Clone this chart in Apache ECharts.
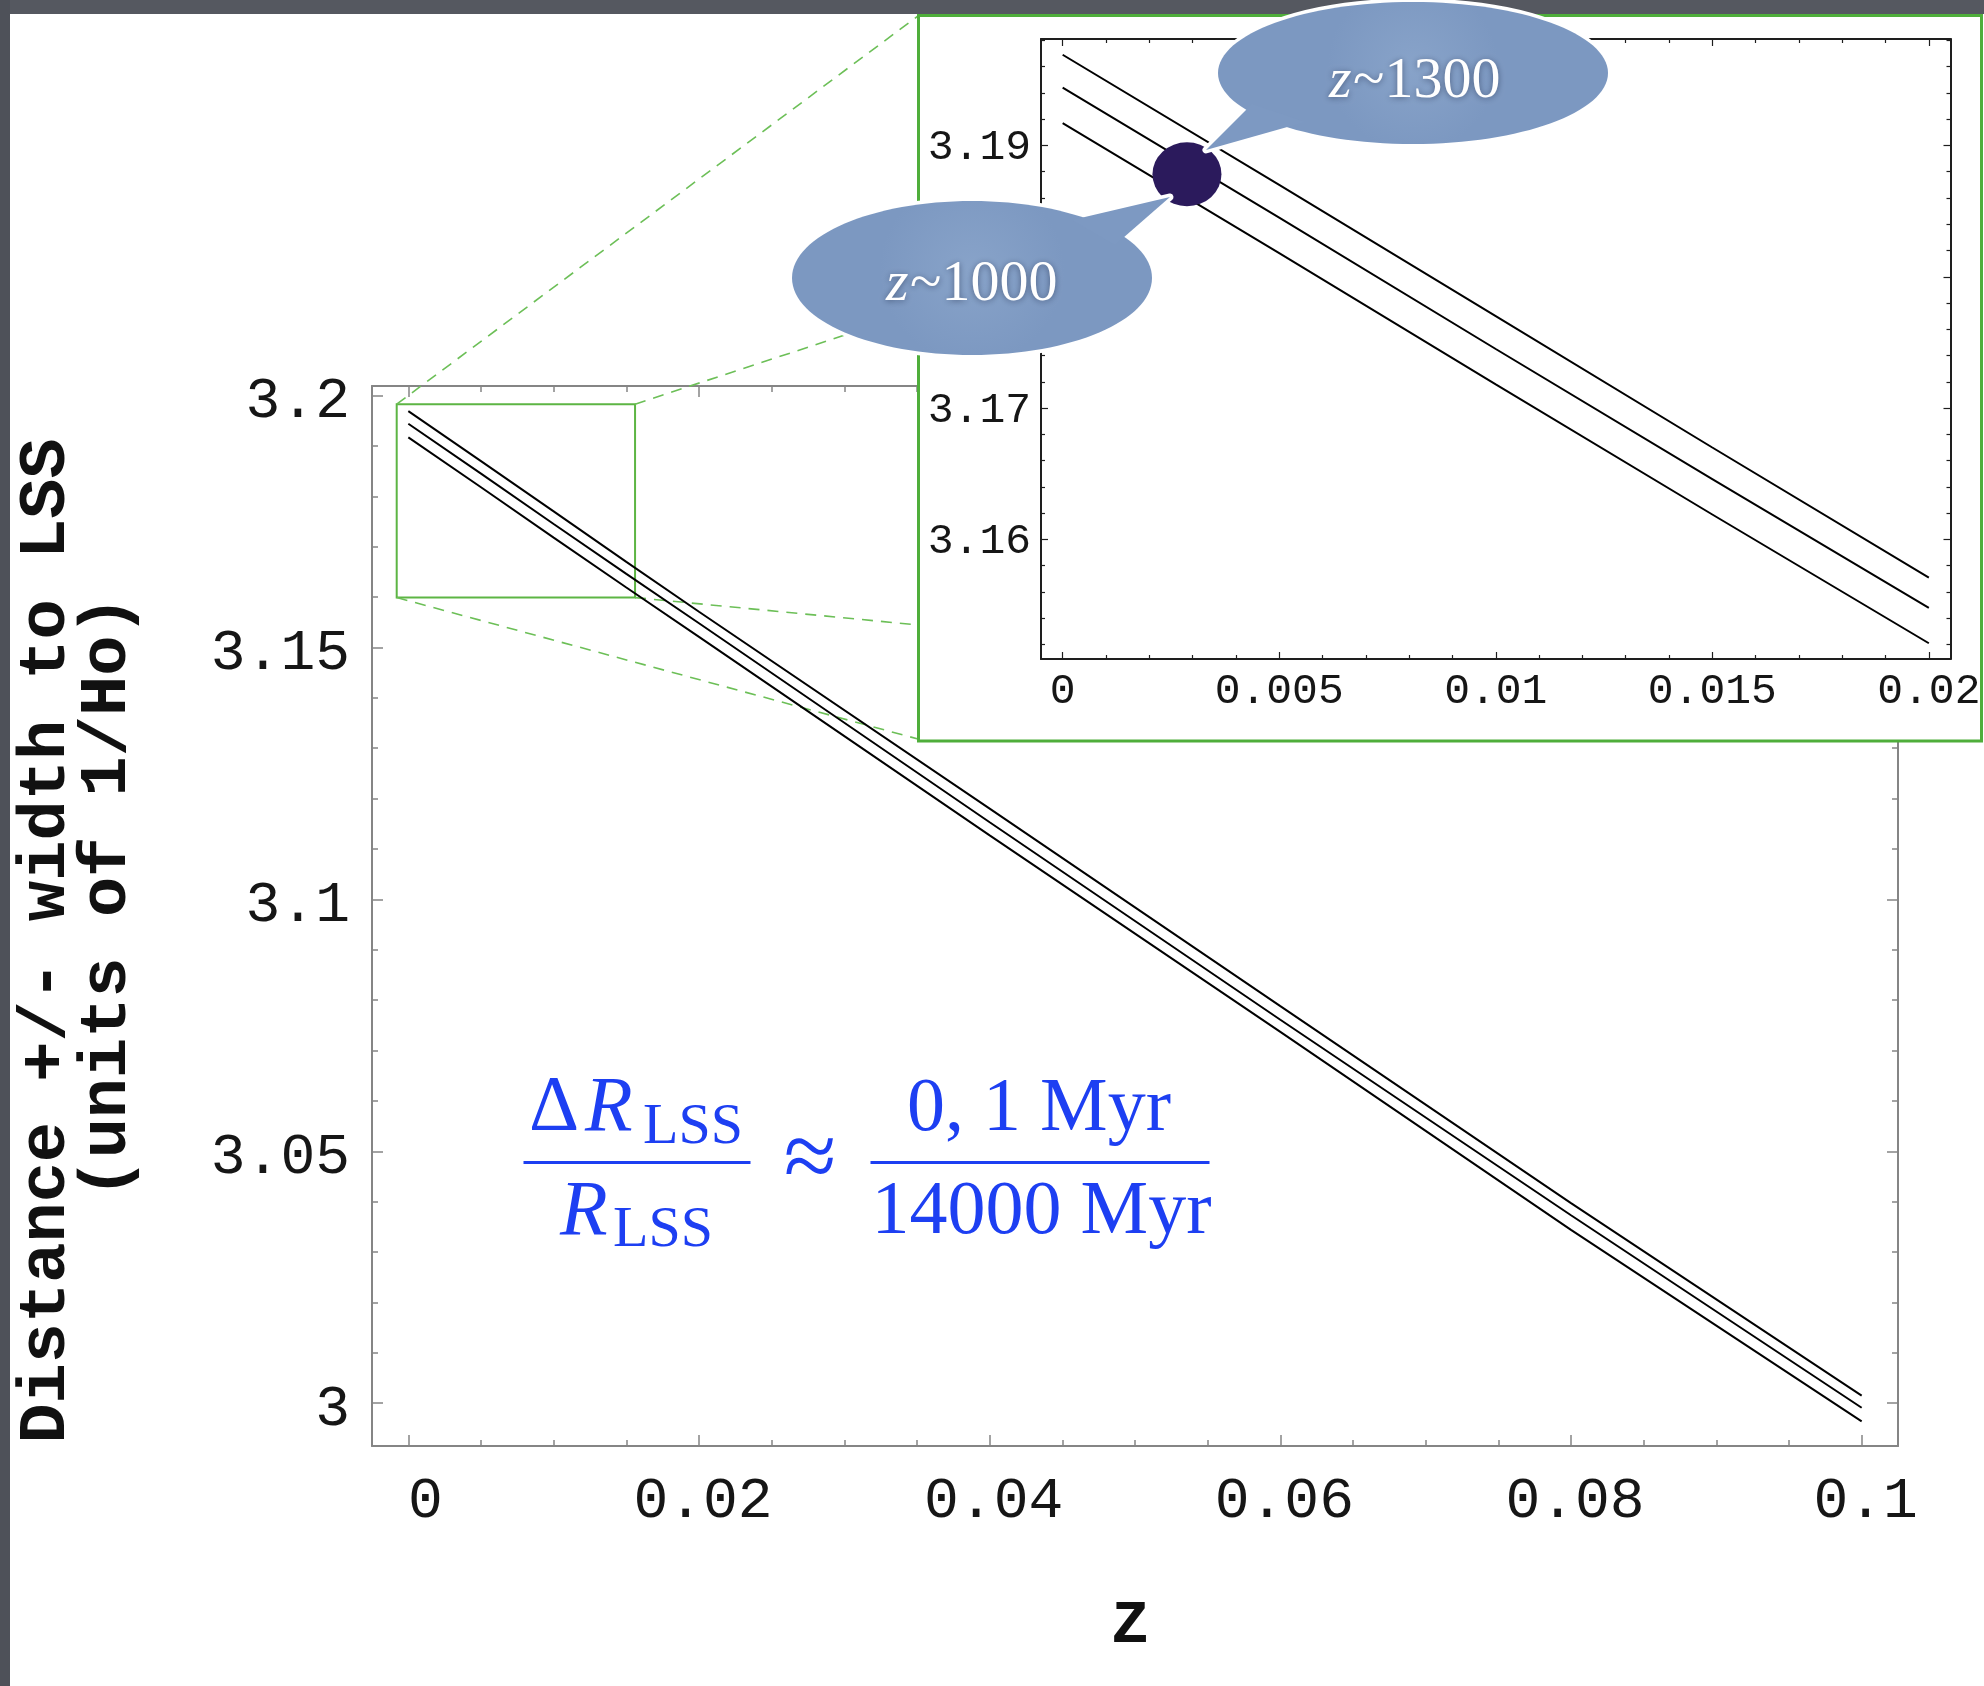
<!DOCTYPE html>
<html>
<head>
<meta charset="utf-8">
<title>Distance to LSS versus z</title>
<script src="https://cdn.jsdelivr.net/npm/echarts@6/dist/echarts.min.js"></script>
<style>
  html, body { margin: 0; padding: 0; background: #ffffff; }
  #chart { width: 1984px; height: 1686px; }
</style>
</head>
<body>
<div id="chart"></div>
<script>
// Observer redshift z and distance to the last scattering surface (units of 1/H0):
// central value and the +/- width band.
const zValues          = [0, 0.005, 0.01, 0.015, 0.02, 0.04, 0.06, 0.08, 0.1];
const upperEdge        = [3.1969, 3.1870, 3.1770, 3.1670, 3.1571, 3.1180, 3.0788, 3.0397, 3.0015];
const centralDistance  = [3.1944, 3.1845, 3.1745, 3.1646, 3.1548, 3.1153, 3.0761, 3.0373, 2.9991];
const lowerEdge        = [3.1917, 3.1818, 3.1718, 3.1619, 3.1521, 3.1127, 3.0737, 3.0344, 2.9964];

// Axis ranges and tick labels of the main plot
const mainXRange      = [-0.0025, 0.1025];
const mainXTicks      = [0, 0.02, 0.04, 0.06, 0.08, 0.1];
const mainXTickLabels = ['0', '0.02', '0.04', '0.06', '0.08', '0.1'];
const mainYRange      = [2.9915, 3.2019];
const mainYTicks      = [3, 3.05, 3.1, 3.15, 3.2];
const mainYTickLabels = ['3', '3.05', '3.1', '3.15', '3.2'];

// Axis ranges and tick labels of the magnified view
const insetXRange      = [-0.0005, 0.0205];
const insetXTicks      = [0, 0.005, 0.01, 0.015, 0.02];
const insetXTickLabels = ['0', '0.005', '0.01', '0.015', '0.02'];
const insetYRange      = [3.1509, 3.1981];
const insetYTicks      = [3.16, 3.17, 3.18, 3.19];
const insetYTickLabels = ['3.16', '3.17', '3.18', '3.19'];

// Region of the main plot shown magnified
const zoomBoxX = [-0.0008, 0.0156];
const zoomBoxY = [3.1599, 3.1983];

// Emission point marked on the central curve
const emissionPoint = [0.00287, 3.1878];

// Bubble captions
const bubbleLabels = ['~1300', '~1000'];

const chart = echarts.init(document.getElementById('chart'), null, { renderer: 'canvas' });

function minorTicks(majors, step, lo, hi) {
  const out = [];
  const n0 = Math.ceil(lo / step - 1e-9), n1 = Math.floor(hi / step + 1e-9);
  for (let n = n0; n <= n1; n++) {
    const v = +(n * step).toFixed(6);
    if (!majors.some(m => Math.abs(m - v) < step / 10)) out.push(v);
  }
  return out;
}

function tickIndex(v, ticks) {
  let best = 0;
  ticks.forEach((t, i) => { if (Math.abs(t - v) < Math.abs(ticks[best] - v)) best = i; });
  return best;
}

// Four axes per dimension: labelled side + mirrored side, each with a major and a minor tick layer
function axisSet(dim, grid, range, majors, labels, minors, st) {
  const sides = dim === 'x' ? ['bottom', 'top'] : ['left', 'right'];
  const out = [];
  sides.forEach((pos, i) => {
    const label = Object.assign({
      show: true, customValues: majors,
      formatter: v => {
        const k = tickIndex(v, majors);
        return (st.shiftFirst && dim === 'x' && k === 0) ? '{first|' + labels[k] + '}' : labels[k];
      },
      rich: { first: { padding: [0, 0, 0, st.shiftFirst || 0], fontFamily: 'Liberation Mono',
                       fontSize: st.fontSize, color: '#161616' } },
      fontFamily: 'Liberation Mono', fontSize: st.fontSize, color: '#161616'
    }, dim === 'x' ? st.xLabel : st.yLabel);
    out.push({
      type: 'value', gridIndex: grid, position: pos, min: range[0], max: range[1], z: st.z,
      axisLine: { show: true, onZero: false, lineStyle: { color: st.lineColor, width: st.lineWidth } },
      axisTick: { show: true, inside: true, length: st.majorLen, customValues: majors,
                  lineStyle: { color: st.lineColor, width: st.tickWidth } },
      axisLabel: i === 0 ? label : { show: false },
      splitLine: { show: false }, minorTick: { show: false }
    });
    out.push({
      type: 'value', gridIndex: grid, position: pos, min: range[0], max: range[1], z: st.z,
      axisLine: { show: false, onZero: false }, axisLabel: { show: false },
      splitLine: { show: false }, minorTick: { show: false },
      axisTick: { show: true, inside: true, length: st.minorLen, customValues: minors,
                  lineStyle: { color: st.lineColor, width: st.tickWidth } }
    });
  });
  return out;
}

const mainStyle = {
  z: 0, lineColor: '#858585', lineWidth: 2, tickWidth: 1.5, majorLen: 11, minorLen: 6, fontSize: 58,
  shiftFirst: 26,
  xLabel: { margin: 27, padding: [0, 0, 0, 8] },
  yLabel: { margin: 22, verticalAlign: 'top', lineHeight: 13 }
};
const insetStyle = {
  z: 4, lineColor: '#1e1e1e', lineWidth: 2, tickWidth: 1.2, majorLen: 7, minorLen: 4, fontSize: 43,
  xLabel: { margin: 11 },
  yLabel: { margin: 10, verticalAlign: 'top', lineHeight: 5 }
};

const xAxes = [
  ...axisSet('x', 0, mainXRange, mainXTicks, mainXTickLabels, minorTicks(mainXTicks, 0.005, mainXRange[0], mainXRange[1]), mainStyle),
  ...axisSet('x', 1, insetXRange, insetXTicks, insetXTickLabels, minorTicks(insetXTicks, 0.001, insetXRange[0], insetXRange[1]), insetStyle)
];
const yAxes = [
  ...axisSet('y', 0, mainYRange, mainYTicks, mainYTickLabels, minorTicks(mainYTicks, 0.01, mainYRange[0], mainYRange[1]), mainStyle),
  ...axisSet('y', 1, insetYRange, insetYTicks, insetYTickLabels, minorTicks(insetYTicks, 0.002, insetYRange[0], insetYRange[1]), insetStyle)
];

const pairs = arr => zValues.map((z, i) => [z, arr[i]]);
const insetPairs = arr => pairs(arr).filter(p => p[0] <= insetXRange[1]);
const curveStyle = { color: '#000000', width: 2 };

function curve(data, axisIdx, z) {
  return { type: 'line', data, xAxisIndex: axisIdx, yAxisIndex: axisIdx, z,
           showSymbol: false, symbol: 'none', silent: true, lineStyle: curveStyle };
}

const mainUpper = curve(pairs(upperEdge), 0, 2);
mainUpper.markArea = {
  silent: true,
  itemStyle: { color: 'rgba(0,0,0,0)', borderColor: '#5db544', borderWidth: 2 },
  data: [[{ coord: [zoomBoxX[0], zoomBoxY[1]] }, { coord: [zoomBoxX[1], zoomBoxY[0]] }]]
};

const option = {
  backgroundColor: '#ffffff',
  animation: false,
  grid: [
    { left: 372, top: 386, width: 1526, height: 1060, containLabel: false, outerBoundsMode: 'none' },
    { left: 1041, top: 39, width: 909.5, height: 620, containLabel: false, outerBoundsMode: 'none' }
  ],
  xAxis: xAxes,
  yAxis: yAxes,
  series: [
    mainUpper,
    curve(pairs(centralDistance), 0, 2),
    curve(pairs(lowerEdge), 0, 2),
    curve(insetPairs(upperEdge), 4, 5),
    curve(insetPairs(centralDistance), 4, 5),
    curve(insetPairs(lowerEdge), 4, 5),
    {
      type: 'scatter', xAxisIndex: 4, yAxisIndex: 4, z: 6, silent: true,
      data: [emissionPoint], symbol: 'circle', symbolSize: [69, 64],
      itemStyle: { color: '#2b1a5c', opacity: 1 }
    }
  ]
};
chart.setOption(option);

// Decorations: slide frame, magnifier box, bubbles, axis titles, formula
const px = p => chart.convertToPixel({ seriesIndex: 0 }, p);
const boxTL = px([zoomBoxX[0], zoomBoxY[1]]);
const boxTR = px([zoomBoxX[1], zoomBoxY[1]]);
const boxBL = px([zoomBoxX[0], zoomBoxY[0]]);
const boxBR = px([zoomBoxX[1], zoomBoxY[0]]);

const dash = (a, b) => ({
  type: 'line', z: 1, silent: true,
  shape: { x1: a[0], y1: a[1], x2: b[0], y2: b[1] },
  style: { stroke: '#6cbf57', lineWidth: 1.6, lineDash: [11, 8] }
});

function bubble(cx, cy, rx, ry, tail) {
  return [
    { type: 'ellipse', z: 7, silent: true, shape: { cx, cy, rx, ry },
      style: { fill: '#ffffff', stroke: '#ffffff', lineWidth: 7 } },
    { type: 'polygon', z: 7, silent: true, shape: { points: tail },
      style: { fill: '#ffffff', stroke: '#ffffff', lineWidth: 7, lineJoin: 'round' } },
    { type: 'ellipse', z: 8, silent: true, shape: { cx, cy, rx, ry },
      style: { fill: {
        type: 'radial', x: 0.5, y: 0.45, r: 0.6,
        colorStops: [{ offset: 0, color: '#88a3c9' }, { offset: 1, color: '#7c98c1' }]
      } } },
    { type: 'polygon', z: 8, silent: true, shape: { points: tail },
      style: { fill: '#7d99c2' } }
  ];
}

const bubbleText = (x, y, label) => [
  { type: 'text', z: 9, silent: true, x: x, y: y,
    style: { text: 'z', font: 'italic 58px "Liberation Serif"', fill: '#ffffff',
             align: 'left', verticalAlign: 'middle',
             textShadowColor: 'rgba(30,40,70,0.55)', textShadowBlur: 6, textShadowOffsetY: 1 } },
  { type: 'text', z: 9, silent: true, x: x + 24, y: y,
    style: { text: label, font: '58px "Liberation Serif"', fill: '#ffffff',
             align: 'left', verticalAlign: 'middle',
             textShadowColor: 'rgba(30,40,70,0.55)', textShadowBlur: 6, textShadowOffsetY: 1 } }
];

const blue = '#1d3ff2';
const ftext = (x, y, text, size, italic, align) => ({
  type: 'text', z: 3, silent: true, x, y,
  style: { text, font: (italic ? 'italic ' : '') + size + 'px "Liberation Serif"', fill: blue,
           align: align || 'left', verticalAlign: 'middle' }
});
const fbar = (x1, x2, y) => ({
  type: 'line', z: 3, silent: true, shape: { x1, y1: y, x2, y2: y },
  style: { stroke: blue, lineWidth: 3 }
});

const elements = [
  // dark slide margins
  { type: 'rect', z: 0, silent: true, shape: { x: 0, y: 0, width: 1984, height: 14 }, style: { fill: '#555860' } },
  { type: 'rect', z: 0, silent: true, shape: { x: 0, y: 0, width: 10, height: 1686 }, style: { fill: '#4e5159' } },

  // magnifier guide lines
  dash(boxTL, [918, 16]),
  dash(boxTR, [918, 311]),
  dash(boxBL, [918, 739]),
  dash(boxBR, [918, 625]),

  // magnified panel
  { type: 'rect', z: 3, silent: true, shape: { x: 918.5, y: 15.5, width: 1063, height: 725.5 },
    style: { fill: '#ffffff', stroke: '#4fae3b', lineWidth: 3 } },

  // bubbles
  ...bubble(1413, 73, 195, 71, [[1252, 104], [1206, 150], [1305, 122]]),
  ...bubble(972, 278, 180, 77, [[1072, 220], [1170, 197], [1115, 245]]),
  ...bubbleText(1329, 82, bubbleLabels[0]),
  ...bubbleText(886, 285, bubbleLabels[1]),

  // axis titles
  { type: 'text', z: 3, silent: true, x: 47, y: 941, rotation: Math.PI / 2,
    style: { text: 'Distance +/- width to LSS', font: 'bold 67px "Liberation Mono"', fill: '#111111',
             align: 'center', verticalAlign: 'middle' } },
  { type: 'text', z: 3, silent: true, x: 108, y: 897, rotation: Math.PI / 2,
    style: { text: '(units of 1/Ho)', font: 'bold 67px "Liberation Mono"', fill: '#111111',
             align: 'center', verticalAlign: 'middle' } },
  { type: 'text', z: 3, silent: true, x: 1130, y: 1626,
    style: { text: 'Z', font: 'bold 62px "Liberation Mono"', fill: '#111111',
             align: 'center', verticalAlign: 'middle' } },

  // ΔR_LSS / R_LSS ≈ 0,1 Myr / 14000 Myr
  ftext(529, 1109, 'Δ', 78, false),
  ftext(585, 1109, 'R', 78, true),
  ftext(643, 1128, 'LSS', 58, false),
  fbar(523.5, 750.5, 1162.5),
  ftext(560, 1213, 'R', 78, true),
  ftext(613, 1231, 'LSS', 58, false),
  ftext(810, 1163, '≈', 96, false, 'center'),
  ftext(1039, 1110, '0, 1 Myr', 76, false, 'center'),
  fbar(870.5, 1209.5, 1162.5),
  ftext(1041.5, 1213, '14000 Myr', 76, false, 'center')
];

chart.setOption({ graphic: { elements } });
</script>
</body>
</html>
